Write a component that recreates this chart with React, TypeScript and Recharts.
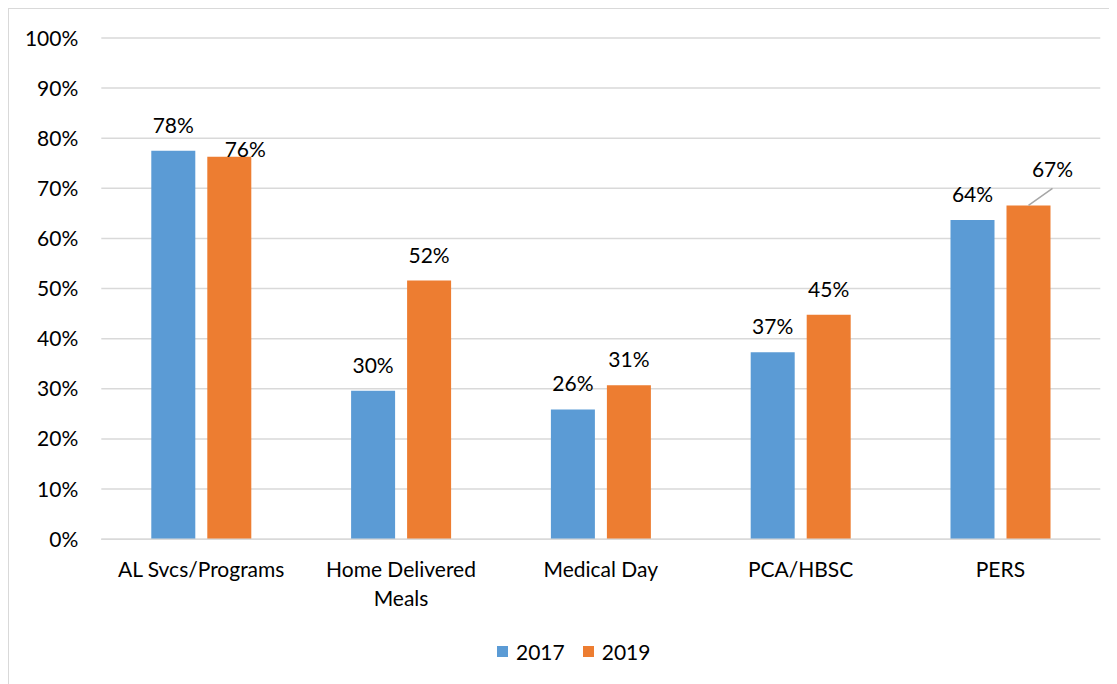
import React from 'react';
import { BarChart, Bar, XAxis, YAxis, CartesianGrid, Legend, LabelList } from 'recharts';

const categories = ['AL Svcs/Programs', 'Home Delivered Meals', 'Medical Day', 'PCA/HBSC', 'PERS'];
const values2017 = [77.5, 29.6, 25.9, 37.3, 63.7];
const values2019 = [76.3, 51.6, 30.7, 44.8, 66.6];
const yTicks = [0, 10, 20, 30, 40, 50, 60, 70, 80, 90, 100];
const seriesNames = ['2017', '2019'];

const BLUE = '#5B9BD5';
const ORANGE = '#ED7D31';
const GRID = '#D9D9D9';
const FONT = 'Lato, "Open Sans", sans-serif';
const FONT_SIZE = 21;

const data = categories.map((name, i) => ({
  name,
  y2017: values2017[i],
  y2019: values2019[i],
}));

// crude word wrap by character count (measured text wrapping didn't kick in)
const wrapLabel = (label: string, maxChars = 16) => {
  const lines: string[] = [];
  let cur = '';
  label.split(' ').forEach((w) => {
    const next = cur ? `${cur} ${w}` : w;
    if (next.length > maxChars && cur) {
      lines.push(cur);
      cur = w;
    } else {
      cur = next;
    }
  });
  if (cur) lines.push(cur);
  return lines;
};

const YTick = (props: any) => {
  const { x, y, payload } = props;
  return (
    <text x={x - 23} y={y + 7.5} textAnchor="end" fontFamily={FONT} fontSize={FONT_SIZE} fill="#000">
      {payload.value}%
    </text>
  );
};

const XTick = (props: any) => {
  const { x, y, payload } = props;
  const lines = wrapLabel(String(payload.value));
  return (
    <text x={x} y={y + 38} textAnchor="middle" fontFamily={FONT} fontSize={FONT_SIZE} fill="#000">
      {lines.map((l, i) => (
        <tspan key={i} x={x} dy={i === 0 ? 0 : 29}>
          {l}
        </tspan>
      ))}
    </text>
  );
};

// Excel moved two of the 2019 labels by hand; mimic that here
const makeLabel = (series: string) => (props: any) => {
  const { x, y, width, value, index } = props;
  const cx = x + width / 2;
  let dx = 0;
  let dy = -18;
  let leader = false;
  if (series === '2019' && index === 0) {
    dx = 16;
    dy = 0.5;
  }
  if (series === '2019' && index === 4) {
    dx = 24;
    dy = -28;
    leader = true;
  }
  return (
    <g>
      {leader && <line x1={cx} y1={y} x2={cx + 24} y2={y - 17} stroke="#A6A6A6" strokeWidth={1.5} />}
      <text x={cx + dx} y={y + dy} textAnchor="middle" fontFamily={FONT} fontSize={FONT_SIZE} fill="#000">
        {Math.round(value)}%
      </text>
    </g>
  );
};

const LegendContent = () => (
  <div style={{ display: 'flex', alignItems: 'center', fontFamily: FONT, fontSize: FONT_SIZE, color: '#000' }}>
    {seriesNames.map((s, i) => (
      <div key={s} style={{ display: 'flex', alignItems: 'center', marginRight: 18 }}>
        <div style={{ width: 11, height: 11, background: i === 0 ? BLUE : ORANGE, marginRight: 8 }} />
        <span>{s}</span>
      </div>
    ))}
  </div>
);

export default function App() {
  return (
    <div
      style={{
        width: 1108,
        height: 675,
        borderTop: `1px solid ${GRID}`,
        borderLeft: `1px solid ${GRID}`,
        overflow: 'hidden',
        background: '#fff',
      }}
    >
      <BarChart
        width={1100}
        height={667}
        data={data}
        margin={{ top: 29, right: 8.7, left: 0, bottom: 0 }}
        barSize={44}
        barGap={12}
      >
        <CartesianGrid vertical={false} stroke={GRID} strokeWidth={1.5} />
        <YAxis
          width={92.3}
          domain={[0, 100]}
          ticks={yTicks}
          axisLine={false}
          tickLine={false}
          tickSize={0}
          tickMargin={0}
          tick={<YTick />}
          interval={0}
        />
        <XAxis
          dataKey="name"
          height={136.8}
          axisLine={{ stroke: GRID, strokeWidth: 1.5 }}
          tickLine={false}
          tickSize={0}
          tickMargin={0}
          tick={<XTick />}
          interval={0}
        />
        <Legend
          verticalAlign="middle"
          align="center"
          layout="horizontal"
          wrapperStyle={{ top: 630, left: 488, width: 250, height: 30 }}
          content={<LegendContent />}
        />
        <Bar dataKey="y2017" name="2017" fill={BLUE} isAnimationActive={false}>
          <LabelList dataKey="y2017" content={makeLabel('2017')} />
        </Bar>
        <Bar dataKey="y2019" name="2019" fill={ORANGE} isAnimationActive={false}>
          <LabelList dataKey="y2019" content={makeLabel('2019')} />
        </Bar>
      </BarChart>
    </div>
  );
}
